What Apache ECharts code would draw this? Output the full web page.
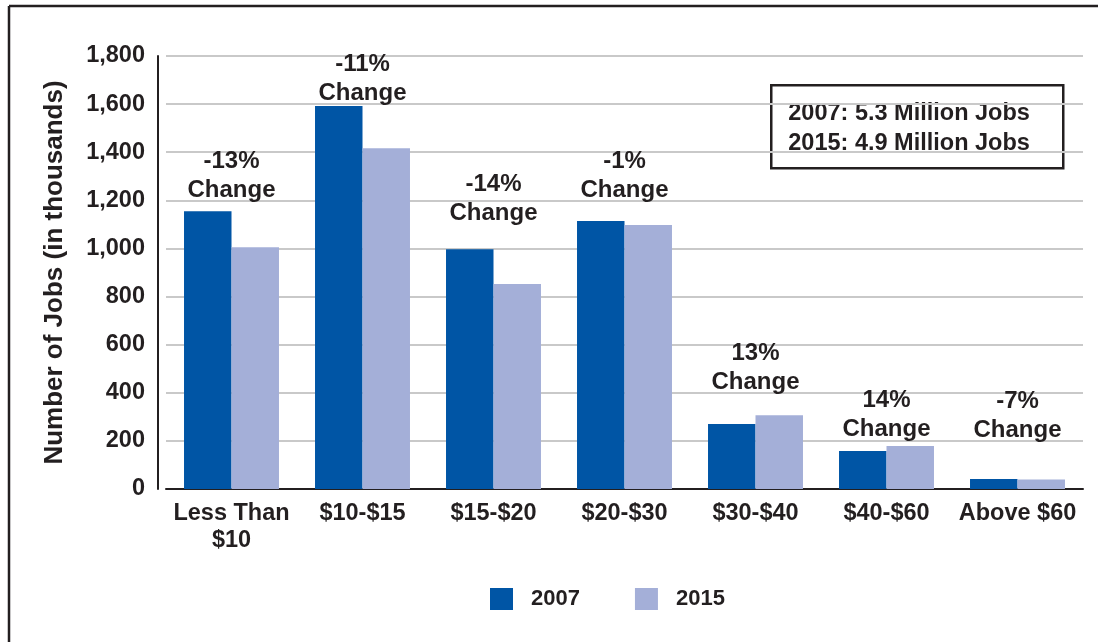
<!DOCTYPE html>
<html>
<head>
<meta charset="utf-8">
<script src="https://cdn.jsdelivr.net/npm/echarts@6/dist/echarts.min.js"></script>
<style>
  html, body { margin: 0; padding: 0; background: #ffffff; }
  #chart { width: 1098px; height: 642px; }
</style>
</head>
<body>
<div id="chart"></div>
<script>
// ---- data (thousands of jobs) ----
const categories = ['Less Than\n$10', '$10-$15', '$15-$20', '$20-$30', '$30-$40', '$40-$60', 'Above $60'];
const jobs2007 = [1155, 1592, 997, 1114, 270, 158, 42];
const jobs2015 = [1005, 1417, 852, 1097, 307, 179, 39];
const changeText = ['-13%', '-11%', '-14%', '-1%', '13%', '14%', '-7%'];
// anchor height (in thousands of jobs) where each change note sits
const changeAnchor = [1180, 1584, 1085, 1180, 382, 187, 183];
const yTicks = { min: 0, max: 1800, interval: 200 };
const totals = ['2007: 5.3 Million Jobs', '2015: 4.9 Million Jobs'];

const FONT = '"Liberation Sans", Arial, Helvetica, sans-serif';
const INK = '#231f20';
const C2007 = '#0055a5';
const C2015 = '#a4afd8';

const chart = echarts.init(document.getElementById('chart'), null, { renderer: 'canvas' });

chart.setOption({
  backgroundColor: '#ffffff',
  animation: false,
  textStyle: { fontFamily: FONT, color: INK },
  grid: { left: 166, right: 15, top: 56, bottom: 153, containLabel: false },
  legend: {
    data: ['2007', '2015'],
    left: 485,
    top: 583,
    itemWidth: 23,
    itemHeight: 22,
    itemGap: 55,
    icon: 'rect',
    selectedMode: false,
    textStyle: { fontFamily: FONT, fontSize: 22, fontWeight: 'bold', color: INK, padding: [0, 0, 0, 13] }
  },
  xAxis: {
    type: 'category',
    data: categories,
    axisTick: { show: false },
    axisLine: { show: true, lineStyle: { color: INK, width: 2 } },
    axisLabel: {
      interval: 0,
      margin: 11,
      fontFamily: FONT,
      fontSize: 23.5,
      fontWeight: 'bold',
      color: INK,
      lineHeight: 27
    }
  },
  yAxis: {
    type: 'value',
    min: yTicks.min,
    max: yTicks.max,
    interval: yTicks.interval,
    offset: 8,
    name: 'Number of Jobs (in thousands)',
    nameLocation: 'middle',
    nameGap: 90,
    nameTextStyle: { fontFamily: FONT, fontSize: 26, fontWeight: 'bold', color: INK },
    axisLine: { show: true, lineStyle: { color: INK, width: 2 } },
    axisTick: { show: false },
    splitLine: { show: true, lineStyle: { color: '#c9c9c9', width: 2 } },
    axisLabel: {
      margin: 13,
      fontFamily: FONT,
      fontSize: 23.5,
      fontWeight: 'bold',
      color: INK,
      formatter: v => v.toLocaleString('en-US')
    }
  },
  series: [
    {
      name: '2007',
      type: 'bar',
      data: jobs2007,
      barGap: '0%',
      barCategoryGap: '27.5%',
      itemStyle: { color: C2007 }
    },
    {
      name: '2015',
      type: 'bar',
      data: jobs2015,
      barGap: '0%',
      barCategoryGap: '27.5%',
      itemStyle: { color: C2015 }
    },
    {
      name: 'change',
      type: 'scatter',
      data: changeAnchor,
      symbolSize: 0,
      silent: true,
      z: 10,
      itemStyle: { opacity: 1 },
      label: {
        show: true,
        position: 'top',
        distance: 0,
        fontFamily: FONT,
        fontSize: 24,
        fontWeight: 'bold',
        color: INK,
        opacity: 1,
        lineHeight: 29,
        align: 'center',
        formatter: p => changeText[p.dataIndex] + '\nChange'
      }
    }
  ],
  graphic: [
    { type: 'line', shape: { x1: 9, y1: 6, x2: 1098, y2: 6 }, style: { stroke: INK, lineWidth: 2.5 }, silent: true },
    { type: 'line', shape: { x1: 9, y1: 6, x2: 9, y2: 642 }, style: { stroke: INK, lineWidth: 2.5 }, silent: true },
    {
      type: 'group',
      left: 770,
      top: 84,
      children: [
        { type: 'rect', shape: { x: 0, y: 0, width: 292, height: 83 }, style: { fill: '#ffffff', stroke: INK, lineWidth: 2.5 } },
        { type: 'text', x: 17, y: 28, style: { text: totals[0], font: 'bold 23.5px ' + FONT, fill: INK, textVerticalAlign: 'middle' } },
        { type: 'text', x: 17, y: 58, style: { text: totals[1], font: 'bold 23.5px ' + FONT, fill: INK, textVerticalAlign: 'middle' } }
      ]
    }
  ]
});
</script>
</body>
</html>
